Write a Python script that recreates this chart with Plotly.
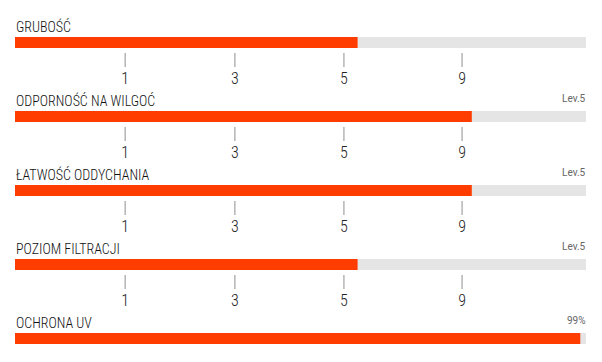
import plotly.graph_objects as go

labels = ["GRUBOŚĆ", "ODPORNOŚĆ NA WILGOĆ", "ŁATWOŚĆ ODDYCHANIA", "POZIOM FILTRACJI", "OCHRONA UV"]
values = [60, 80, 80, 60, 99]
right_labels = ["", "Lev.5", "Lev.5", "Lev.5", "99%"]
has_scale = [True, True, True, True, False]
scale_labels = ["1", "3", "5", "9"]
scale_pos = [19.3, 38.5, 57.6, 78.3]

# page body has an 8px margin, so the figure is 8px smaller and shifted
W, H = 594, 354
ROW = 74.0
TOP = 42.5 - 8
a = -TOP / ROW
b = a + H / ROW

COND = "Roboto Condensed, Liberation Sans Narrow, DejaVu Sans Condensed, Arial Narrow, sans-serif"
ORANGE = "#FF3D00"
GRAY = "#E5E5E5"

rows = list(range(len(labels)))
fig = go.Figure()
fig.add_trace(go.Bar(x=[100] * len(rows), y=rows, orientation="h", width=11 / ROW,
                     marker=dict(color=GRAY, line=dict(width=0)), hoverinfo="skip"))
fig.add_trace(go.Bar(x=values, y=rows, orientation="h", width=11 / ROW,
                     marker=dict(color=ORANGE, line=dict(width=0)), hoverinfo="skip"))

tx, ty, lx, ly, lt = [], [], [], [], []
for r, s in zip(rows, has_scale):
    if not s:
        continue
    for p, t in zip(scale_pos, scale_labels):
        tx.append(p); ty.append(r + 17.5 / ROW)
        lx.append(p); ly.append(r + 37 / ROW); lt.append(t)

fig.add_trace(go.Scatter(x=tx, y=ty, mode="markers",
                         marker=dict(symbol="line-ns", size=10, line=dict(width=1.5, color="#B5B5B5")),
                         hoverinfo="skip"))
fig.add_trace(go.Scatter(x=lx, y=ly, mode="text", text=lt,
                         textfont=dict(family=COND, size=16, color="#222222", weight=300),
                         hoverinfo="skip"))

for r, lab, rl in zip(rows, labels, right_labels):
    fig.add_annotation(x=0, y=r - 16 / ROW, text=lab, showarrow=False, xanchor="left",
                       yanchor="middle", xshift=-1,
                       font=dict(family=COND, size=14, color="#111111", weight=300))
    if rl:
        fig.add_annotation(x=100, y=r - 18 / ROW, text=rl, showarrow=False, xanchor="right",
                           yanchor="middle", xshift=2, font=dict(family="Roboto, sans-serif", size=10, color="#666666"))

fig.update_layout(width=W, height=H, margin=dict(l=7, r=16, t=0, b=0),
                  barmode="overlay", showlegend=False,
                  plot_bgcolor="white", paper_bgcolor="white",
                  xaxis=dict(range=[0, 100], visible=False, fixedrange=True),
                  yaxis=dict(range=[b, a], visible=False, fixedrange=True))

fig.write_html("out.html")
